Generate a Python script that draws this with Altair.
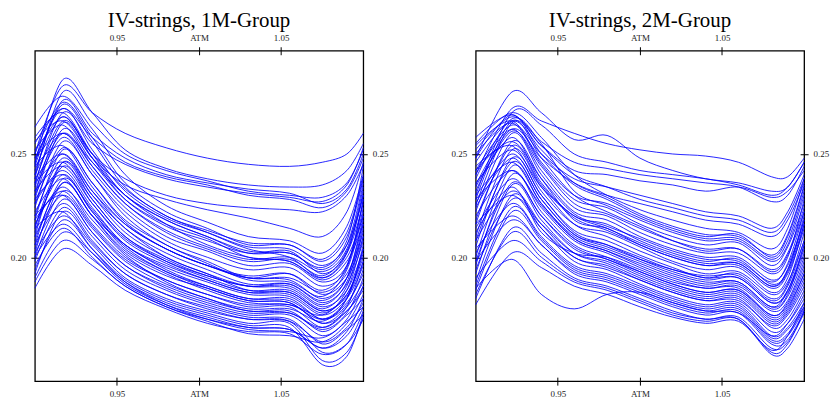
import altair as alt
import pandas as pd

TITLES = ["IV-strings, 1M-Group", "IV-strings, 2M-Group"]
X_TICKS = [0.95, 1.00, 1.05]
X_TICK_LABELS = ["0.95", "ATM", "1.05"]
Y_TICKS = [0.20, 0.25]
X_DOMAIN = [0.90, 1.10]
Y_DOMAIN = [0.14, 0.30]

# moneyness knots and implied vols (in %)
KNOTS_1M = [0.900, 0.917, 0.935, 0.955, 0.980, 1.005, 1.030, 1.055, 1.075, 1.090, 1.100]
CURVES_1M = [
    [25.0, 28.3, 27.0, 26.0, 25.3, 24.8, 24.5, 24.4, 24.6, 25.0, 26.0],
    [24.5, 28.6, 27.0, 25.2, 24.3, 23.8, 23.5, 23.4, 23.5, 24.2, 25.5],
    [23.8, 28.0, 26.5, 25.0, 24.2, 23.7, 23.2, 23.0, 22.9, 23.6, 25.2],
    [24.0, 27.6, 26.0, 24.8, 24.0, 23.6, 23.3, 23.1, 22.6, 23.3, 25.0],
    [25.5, 27.2, 25.8, 24.6, 23.9, 23.5, 23.0, 22.8, 22.4, 23.2, 24.8],
    [23.5, 27.0, 25.5, 24.5, 23.8, 23.4, 23.1, 22.9, 22.7, 23.5, 25.3],
    [24.8, 26.8, 25.0, 23.8, 23.0, 22.6, 22.4, 22.3, 22.2, 23.0, 24.5],
    [23.0, 26.5, 24.8, 23.5, 22.8, 22.3, 21.9, 21.4, 21.0, 22.2, 24.6],
    [26.3, 27.8, 26.2, 24.0, 22.5, 21.7, 21.0, 20.8, 20.2, 21.5, 24.0],
    [25.0, 27.5, 25.8, 23.6, 22.2, 21.4, 20.6, 20.6, 19.8, 21.0, 23.8],
    [24.6, 27.2, 25.2, 23.2, 21.9, 21.2, 20.5, 20.4, 19.6, 20.6, 23.0],
    [25.8, 27.0, 25.0, 23.0, 21.8, 21.0, 20.3, 20.2, 19.5, 20.8, 24.4],
    [24.2, 26.8, 24.8, 22.8, 21.5, 20.8, 20.2, 20.3, 19.2, 20.2, 22.6],
    [23.6, 26.6, 25.0, 23.3, 22.0, 21.2, 20.4, 20.0, 19.0, 20.0, 22.0],
    [25.2, 26.4, 24.4, 22.6, 21.3, 20.5, 19.9, 20.0, 19.3, 20.4, 23.4],
    [22.8, 26.2, 24.6, 22.8, 21.6, 20.9, 20.0, 19.8, 18.9, 19.8, 21.6],
    [24.0, 26.0, 24.2, 22.4, 21.0, 20.3, 19.6, 19.7, 18.8, 19.6, 22.4],
    [23.2, 25.8, 24.0, 22.2, 20.8, 20.0, 19.4, 19.5, 18.6, 19.5, 22.8],
    [22.4, 25.6, 24.0, 22.0, 20.6, 19.8, 19.0, 19.0, 18.3, 19.2, 21.2],
    [24.4, 25.4, 23.4, 21.6, 20.4, 19.6, 19.0, 18.9, 18.0, 19.0, 21.8],
    [21.8, 25.2, 23.6, 21.8, 20.6, 19.7, 18.9, 18.8, 18.1, 19.4, 22.2],
    [23.0, 25.0, 23.2, 21.4, 20.2, 19.4, 18.7, 18.7, 17.8, 18.7, 20.8],
    [22.0, 24.8, 23.0, 21.2, 20.0, 19.2, 18.6, 18.5, 17.6, 18.4, 20.4],
    [23.6, 24.6, 22.8, 21.0, 19.8, 19.0, 18.4, 18.4, 17.5, 18.6, 21.4],
    [21.2, 24.4, 22.6, 20.8, 19.7, 18.9, 18.3, 18.2, 17.3, 18.2, 20.0],
    [22.6, 24.2, 22.4, 20.6, 19.5, 18.8, 18.2, 18.1, 17.2, 18.0, 19.6],
    [21.5, 24.0, 22.2, 20.5, 19.3, 18.6, 18.0, 18.0, 17.0, 17.8, 19.2],
    [22.2, 23.8, 22.0, 20.2, 19.1, 18.5, 17.9, 17.8, 16.8, 17.6, 18.8],
    [20.8, 23.6, 22.0, 20.3, 19.2, 18.4, 17.8, 17.7, 17.2, 18.4, 21.0],
    [21.6, 23.4, 21.6, 20.0, 18.9, 18.2, 17.6, 17.6, 16.6, 17.4, 18.4],
    [20.4, 23.2, 21.8, 20.1, 18.8, 18.0, 17.5, 17.5, 16.9, 18.0, 20.6],
    [21.0, 23.0, 21.4, 19.8, 18.7, 18.0, 17.4, 17.4, 16.4, 17.2, 18.0],
    [20.0, 22.8, 21.2, 19.6, 18.5, 17.8, 17.3, 17.3, 16.6, 17.6, 19.8],
    [20.6, 22.6, 21.0, 19.4, 18.4, 17.7, 17.2, 17.2, 16.2, 16.9, 17.6],
    [19.8, 22.4, 20.8, 19.2, 18.2, 17.6, 17.1, 17.0, 15.8, 16.5, 17.2],
    [20.2, 22.0, 20.6, 19.0, 18.0, 17.4, 17.0, 16.9, 15.4, 15.8, 17.0],
    [19.4, 21.8, 20.4, 18.9, 17.9, 17.3, 16.8, 16.8, 15.0, 15.4, 17.1],
    [19.0, 21.2, 20.2, 18.8, 17.8, 17.2, 16.7, 16.6, 14.8, 15.2, 17.3],
    [18.8, 20.8, 19.9, 18.6, 17.6, 17.0, 16.6, 16.5, 15.6, 16.2, 17.6],
    [18.5, 20.4, 19.6, 18.4, 17.5, 16.8, 16.4, 16.3, 15.3, 15.8, 17.4],
    [19.6, 21.4, 20.0, 18.6, 17.6, 16.9, 16.3, 16.2, 15.9, 16.8, 18.2],
    [21.4, 22.2, 20.4, 18.8, 17.7, 17.0, 16.5, 16.4, 16.1, 17.0, 18.6],
    [22.0, 23.0, 21.2, 19.6, 18.6, 17.9, 17.4, 17.3, 16.5, 17.3, 19.0],
    [23.8, 25.0, 23.2, 21.6, 20.4, 19.6, 19.0, 19.2, 18.4, 19.6, 22.8],
    [24.8, 26.0, 24.6, 23.0, 21.8, 21.0, 20.2, 20.2, 19.4, 20.6, 23.6],
    [25.6, 26.6, 24.8, 23.0, 21.6, 20.6, 20.0, 19.8, 19.0, 20.2, 23.2],
    [20.2, 23.6, 22.0, 20.6, 19.4, 18.6, 18.0, 17.9, 17.0, 17.7, 19.4],
    [21.0, 24.6, 23.0, 21.4, 20.0, 19.2, 18.4, 18.3, 17.4, 18.2, 20.2],
    [24.4, 27.4, 25.6, 23.4, 22.0, 21.3, 20.7, 20.6, 19.9, 21.2, 23.9],
    [23.4, 26.0, 24.4, 22.6, 21.2, 20.4, 19.8, 19.9, 19.1, 20.3, 23.0],
    [22.6, 25.3, 23.6, 21.7, 20.4, 19.6, 19.1, 19.2, 18.2, 19.0, 21.0],
    [21.4, 24.6, 22.8, 21.0, 19.9, 19.1, 18.6, 18.6, 17.7, 18.8, 21.6],
    [22.8, 24.0, 22.3, 20.6, 19.6, 18.9, 18.3, 18.3, 17.4, 18.1, 19.8],
    [20.6, 23.8, 22.2, 20.4, 19.3, 18.5, 17.9, 17.8, 16.8, 17.4, 18.6],
    [21.8, 23.2, 21.5, 19.9, 18.9, 18.2, 17.7, 17.7, 17.0, 18.0, 20.4],
    [19.2, 22.2, 20.7, 19.2, 18.2, 17.5, 17.0, 16.9, 15.9, 16.6, 17.8],
    [20.0, 21.6, 20.2, 18.7, 17.7, 17.1, 16.6, 16.5, 15.6, 16.4, 18.0],
    [23.2, 24.4, 22.6, 20.9, 19.8, 19.1, 18.6, 18.7, 17.9, 19.0, 22.0],
]

# moneyness knots and implied vols (in %)
KNOTS_2M = [0.900, 0.922, 0.940, 0.960, 0.980, 1.000, 1.020, 1.040, 1.060, 1.080, 1.090, 1.100]
CURVES_2M = [
    [24.0, 27.2, 26.6, 26.0, 25.5, 25.2, 25.0, 24.9, 24.6, 23.9, 23.9, 24.8],
    [24.8, 28.0, 27.0, 25.7, 25.9, 24.8, 24.2, 23.8, 23.6, 23.2, 23.4, 24.6],
    [23.0, 27.0, 26.4, 25.0, 24.6, 24.2, 24.0, 23.8, 23.5, 23.0, 23.4, 24.6],
    [25.2, 26.8, 25.6, 24.6, 24.3, 24.0, 23.8, 23.6, 23.4, 22.7, 23.0, 24.4],
    [22.5, 26.5, 25.4, 24.2, 24.0, 23.7, 23.5, 23.2, 23.4, 22.9, 23.2, 24.2],
    [24.2, 26.4, 25.0, 23.8, 23.4, 23.0, 22.6, 22.2, 22.0, 21.4, 22.2, 24.0],
    [23.5, 26.2, 24.8, 23.6, 23.0, 22.6, 22.2, 21.8, 21.6, 21.0, 21.8, 23.6],
    [25.5, 27.0, 25.8, 24.0, 23.0, 22.3, 21.8, 21.4, 21.2, 20.4, 21.4, 23.8],
    [24.8, 26.9, 25.0, 23.5, 22.8, 22.0, 21.4, 21.0, 21.1, 20.0, 21.0, 23.4],
    [23.8, 26.7, 25.5, 23.2, 22.5, 21.8, 21.2, 20.8, 20.8, 19.8, 20.6, 23.0],
    [25.0, 26.5, 24.5, 22.8, 22.4, 21.6, 21.0, 20.6, 20.7, 19.6, 20.5, 22.6],
    [22.8, 26.6, 24.8, 23.0, 22.2, 21.5, 20.8, 20.3, 20.4, 19.4, 20.2, 22.4],
    [24.0, 26.2, 24.2, 22.4, 22.0, 21.2, 20.6, 20.2, 20.2, 19.2, 20.0, 22.8],
    [22.2, 26.0, 24.0, 22.2, 21.8, 21.0, 20.4, 20.0, 20.0, 18.9, 19.6, 21.8],
    [23.4, 25.8, 23.6, 22.0, 21.6, 20.8, 20.2, 19.8, 19.9, 18.7, 19.4, 22.0],
    [21.6, 25.6, 23.8, 21.8, 21.4, 20.6, 20.0, 19.6, 19.6, 18.5, 19.2, 21.4],
    [24.4, 25.4, 23.2, 21.6, 21.2, 20.5, 19.8, 19.4, 19.5, 18.3, 19.0, 21.6],
    [21.0, 25.2, 23.4, 21.6, 21.0, 20.3, 19.7, 19.2, 19.3, 18.2, 18.8, 20.8],
    [22.6, 25.0, 23.0, 21.3, 20.8, 20.1, 19.5, 19.0, 19.2, 18.0, 18.7, 21.2],
    [20.5, 24.8, 23.0, 21.2, 20.6, 19.9, 19.3, 18.9, 19.0, 17.8, 18.4, 20.4],
    [23.0, 24.6, 22.6, 21.0, 20.4, 19.8, 19.2, 18.8, 18.8, 17.6, 18.2, 20.6],
    [20.0, 24.4, 22.6, 20.9, 20.3, 19.6, 19.0, 18.6, 18.7, 17.5, 18.1, 20.0],
    [22.0, 24.2, 22.4, 20.8, 20.2, 19.5, 18.9, 18.5, 18.6, 17.4, 17.9, 19.8],
    [19.6, 24.0, 22.2, 20.6, 20.0, 19.3, 18.7, 18.3, 18.4, 17.2, 17.7, 19.4],
    [21.4, 23.8, 22.0, 20.4, 19.9, 19.2, 18.6, 18.2, 18.3, 17.0, 17.5, 19.2],
    [19.2, 23.5, 21.8, 20.2, 19.7, 19.0, 18.4, 18.0, 18.1, 16.8, 17.3, 18.8],
    [20.8, 23.2, 21.6, 20.0, 19.6, 18.9, 18.3, 17.9, 18.0, 16.6, 17.0, 18.4],
    [18.8, 23.0, 21.4, 19.8, 19.4, 18.7, 18.1, 17.7, 17.8, 16.4, 16.8, 18.0],
    [20.2, 22.6, 21.0, 19.6, 19.2, 18.6, 18.0, 17.6, 17.7, 16.2, 16.6, 17.8],
    [18.4, 22.2, 20.8, 19.4, 19.0, 18.4, 17.8, 17.4, 17.5, 16.0, 16.3, 17.6],
    [19.8, 21.8, 20.6, 19.2, 18.8, 18.2, 17.6, 17.2, 17.3, 15.8, 16.0, 17.4],
    [18.0, 21.4, 20.2, 19.0, 18.6, 18.0, 17.4, 17.0, 17.1, 15.6, 15.9, 17.3],
    [19.0, 20.8, 19.8, 18.8, 18.4, 17.8, 17.2, 16.9, 17.0, 15.4, 15.8, 17.4],
    [17.7, 20.2, 19.5, 18.6, 18.2, 17.6, 17.1, 16.8, 16.9, 15.5, 16.2, 17.8],
    [18.5, 19.9, 18.2, 17.5, 18.2, 18.3, 17.8, 17.4, 17.3, 16.2, 16.8, 18.2],
    [21.2, 23.4, 21.2, 20.2, 20.0, 19.4, 18.8, 18.5, 18.5, 17.2, 17.8, 19.6],
    [23.6, 25.2, 23.4, 22.0, 21.4, 20.7, 20.1, 19.7, 19.7, 18.6, 19.4, 21.8],
    [25.4, 26.6, 24.6, 23.0, 22.6, 21.9, 21.3, 20.9, 20.9, 19.9, 20.8, 23.2],
    [19.4, 22.8, 21.6, 20.2, 19.8, 19.1, 18.5, 18.1, 18.2, 16.9, 17.4, 19.0],
    [22.4, 24.8, 22.8, 21.1, 20.6, 20.0, 19.4, 19.1, 19.1, 17.9, 18.6, 20.8],
    [24.6, 26.6, 25.2, 23.6, 22.9, 22.1, 21.5, 21.1, 21.0, 20.1, 21.1, 23.5],
    [23.2, 26.1, 24.4, 22.6, 22.1, 21.4, 20.8, 20.4, 20.4, 19.3, 20.1, 22.2],
    [21.8, 25.4, 23.5, 21.9, 21.3, 20.6, 20.0, 19.6, 19.7, 18.6, 19.3, 21.6],
    [24.2, 25.6, 23.8, 22.1, 21.5, 20.9, 20.3, 19.9, 19.8, 18.8, 19.7, 22.2],
    [20.8, 24.6, 22.8, 21.1, 20.5, 19.9, 19.4, 19.0, 19.0, 17.8, 18.3, 20.2],
    [22.8, 24.2, 22.5, 20.9, 20.3, 19.7, 19.1, 18.7, 18.8, 17.6, 18.4, 20.6],
    [19.8, 23.6, 22.0, 20.5, 19.9, 19.3, 18.7, 18.3, 18.4, 17.1, 17.6, 19.2],
    [21.6, 23.0, 21.4, 20.0, 19.5, 18.9, 18.3, 17.9, 17.9, 16.7, 17.2, 18.6],
    [18.6, 22.4, 20.9, 19.5, 19.1, 18.5, 17.9, 17.5, 17.6, 16.1, 16.5, 17.6],
    [20.4, 22.0, 20.6, 19.3, 18.9, 18.3, 17.7, 17.3, 17.4, 15.9, 16.2, 17.5],
    [18.2, 21.2, 20.0, 18.9, 18.5, 17.9, 17.3, 17.0, 17.0, 15.3, 15.6, 17.0],
    [25.8, 26.9, 25.4, 24.0, 23.4, 22.8, 22.4, 22.0, 21.8, 21.2, 22.0, 23.8],
]

SERIF = "Liberation Serif"
X_LABEL_EXPR = " : ".join(
    [f"abs(datum.value - {v}) < 0.0001 ? '{t}'" for v, t in zip(X_TICKS, X_TICK_LABELS)]
) + " : ''"


def axis(orient, values, pad, label_expr=None):
    kw = dict(
        orient=orient, values=values, title=None, grid=False, domain=False,
        tickSize=8, offset=-4, tickColor="black", tickWidth=1,
        labelFont=SERIF, labelFontSize=9, labelColor="#222222",
        labelPadding=pad,
    )
    if label_expr:
        kw["labelExpr"] = label_expr
    else:
        kw["format"] = ".2f"
    return alt.Axis(**kw)


def panel(knots, curves, title):
    rows = []
    for cid, vals in enumerate(curves):
        for m, v in zip(knots, vals):
            rows.append({"m": m, "iv": v / 100.0, "id": cid})
    df = pd.DataFrame(rows)
    xs = alt.Scale(domain=X_DOMAIN, nice=False, zero=False)
    ys = alt.Scale(domain=Y_DOMAIN, nice=False, zero=False)
    base = alt.Chart(df)
    lines = base.mark_line(color="#0000ff", strokeWidth=0.85, interpolate="cardinal").encode(
        x=alt.X("m:Q", scale=xs, axis=axis("bottom", X_TICKS, 4, X_LABEL_EXPR)),
        y=alt.Y("iv:Q", scale=ys, axis=axis("left", Y_TICKS, 5)),
        detail="id:N",
    )
    ghost = base.mark_line(strokeOpacity=0, interpolate="cardinal").encode(
        x=alt.X("m:Q", scale=xs, axis=axis("top", X_TICKS, 4, X_LABEL_EXPR)),
        y=alt.Y("iv:Q", scale=ys, axis=axis("right", Y_TICKS, 5)),
        detail="id:N",
    )
    return (
        alt.layer(lines, ghost)
        .resolve_axis(x="independent", y="independent")
        .properties(
            width=330, height=332,
            title=alt.TitleParams(title, font=SERIF, fontSize=21, fontWeight="normal",
                                  color="black", anchor="middle", offset=1, dy=-2),
        )
    )


chart = (
    alt.hconcat(
        panel(KNOTS_1M, CURVES_1M, TITLES[0]),
        panel(KNOTS_2M, CURVES_2M, TITLES[1]),
        spacing=61,
    )
    .properties(padding={"left": 1, "top": 0, "right": 0, "bottom": 0}, background="white")
    .configure_view(stroke="black", strokeWidth=1.3)
)

chart.save("out.html", embed_options={"renderer": "svg", "actions": False})
